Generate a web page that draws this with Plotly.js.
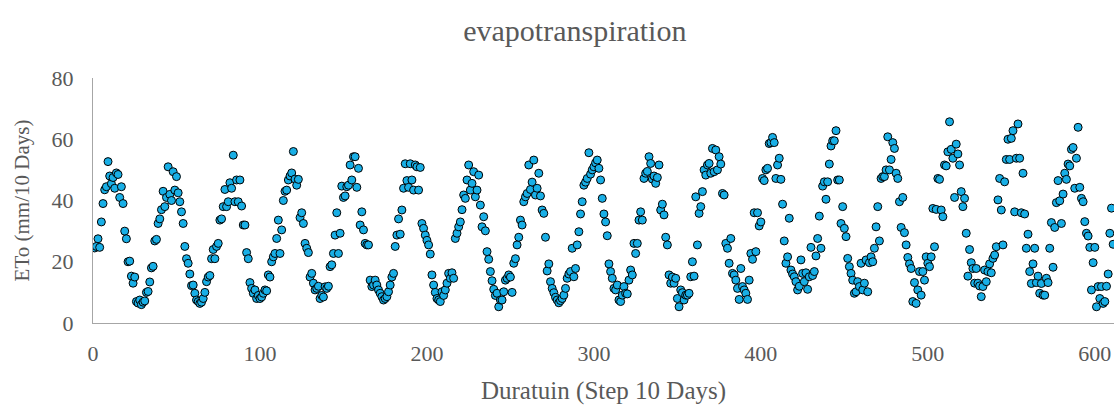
<!DOCTYPE html>
<html>
<head>
<meta charset="utf-8">
<script src="https://cdn.plot.ly/plotly-3.0.1.min.js"></script>
<style>html,body{margin:0;padding:0;background:#fff;}#chart{width:1114px;height:408px;}</style>
</head>
<body>
<div id="chart"></div>
<script>
// ETo values per 10-day step, steps 1..611
const eto = [
24.5, 25.0, 27.5, 24.7, 33.0, 39.0, 43.5, 44.5, 52.7, 48.0,
45.5, 47.5, 44.0, 49.0, 48.5, 41.0, 44.5, 39.0, 30.0, 27.5,
20.0, 20.2, 15.3, 13.0, 15.0, 7.0, 6.5, 7.5, 6.0, 6.8,
7.2, 10.0, 10.3, 13.4, 18.0, 18.5, 26.8, 27.3, 32.5, 34.0,
37.0, 43.0, 38.0, 41.0, 51.0, 42.0, 40.0, 49.4, 43.4, 47.8,
42.5, 39.6, 36.3, 32.5, 25.0, 21.0, 19.5, 16.0, 12.2, 12.4,
9.7, 7.5, 7.0, 6.4, 6.8, 8.0, 10.0, 13.5, 15.0, 15.5,
21.0, 24.0, 21.0, 25.0, 26.0, 33.6, 34.0, 38.0, 43.6, 38.0,
39.6, 45.8, 44.0, 54.8, 39.6, 46.7, 39.6, 46.7, 38.2, 32.0,
32.0, 23.0, 21.0, 13.2, 11.3, 9.7, 10.8, 8.0, 9.0, 8.0,
8.5, 9.7, 10.8, 10.5, 15.7, 15.0, 20.0, 21.6, 22.7, 27.6,
33.6, 22.7, 30.4, 40.0, 43.0, 43.4, 46.7, 48.0, 49.0, 56.0,
47.0, 45.0, 46.9, 34.4, 36.0, 32.5, 26.0, 24.4, 23.0, 15.0,
16.2, 13.0, 10.8, 11.3, 12.0, 8.0, 9.0, 8.5, 11.8, 11.3,
12.0, 18.4, 19.0, 22.7, 28.7, 36.0, 22.7, 29.3, 44.7, 41.0,
41.5, 44.5, 45.0, 51.6, 46.7, 54.3, 54.3, 44.3, 50.5, 32.0,
36.3, 30.4, 26.0, 25.5, 25.5, 14.0, 11.9, 12.4, 14.0, 12.4,
10.8, 9.7, 8.6, 7.5, 8.0, 8.6, 10.2, 12.4, 15.0, 16.2,
25.0, 28.7, 34.0, 29.0, 36.9, 44.0, 52.0, 46.5, 44.3, 52.0,
46.7, 43.4, 51.6, 51.0, 43.4, 50.8, 32.5, 30.9, 28.7, 27.0,
25.5, 22.5, 15.7, 12.4, 10.0, 8.0, 7.5, 7.0, 10.2, 9.0,
10.8, 13.0, 16.2, 14.6, 16.4, 14.6, 27.6, 29.3, 31.4, 33.0,
37.0, 41.8, 40.7, 46.7, 51.6, 43.4, 45.6, 49.4, 41.2, 43.4,
48.3, 38.5, 31.4, 34.7, 30.1, 23.3, 20.8, 16.8, 13.8, 11.0,
9.0, 9.7, 5.3, 7.5, 7.5, 10.2, 14.0, 14.6, 15.7, 15.0,
10.0, 19.5, 21.0, 25.5, 28.0, 33.6, 32.0, 39.6, 41.2, 42.3,
51.6, 43.6, 46.0, 53.2, 41.8, 44.0, 48.9, 41.5, 36.9, 35.8,
28.0, 17.0, 19.3, 13.5, 11.3, 9.9, 8.4, 7.5, 6.6, 7.3,
8.0, 9.1, 11.3, 14.6, 16.0, 16.8, 24.4, 15.1, 17.8, 25.5,
29.8, 35.6, 39.6, 45.0, 46.0, 47.2, 55.6, 48.6, 50.0, 51.0,
52.3, 53.2, 50.5, 46.7, 40.7, 35.6, 33.0, 28.5, 19.3, 16.8,
14.6, 11.3, 10.8, 12.4, 7.5, 7.0, 9.1, 11.9, 9.7, 9.5,
14.0, 17.3, 15.7, 26.0, 22.7, 26.0, 33.6, 36.3, 33.6, 47.2,
48.9, 49.5, 54.3, 52.1, 47.0, 48.0, 45.6, 47.5, 51.6, 36.9,
38.8, 35.3, 28.0, 25.5, 15.7, 13.0, 15.0, 13.0, 14.6, 8.0,
5.3, 10.8, 9.9, 7.5, 9.1, 9.1, 9.7, 15.1, 20.0, 15.3,
41.2, 25.5, 35.8, 38.0, 42.9, 50.0, 48.3, 51.6, 52.1, 48.9,
57.0, 49.4, 56.5, 50.0, 54.3, 51.9, 42.3, 41.8, 26.0, 24.4,
19.5, 27.6, 16.2, 15.7, 14.0, 11.3, 7.7, 17.8, 11.9, 10.8,
9.7, 7.7, 14.0, 22.7, 20.8, 36.0, 23.3, 36.0, 31.7, 33.0,
47.2, 46.5, 50.0, 50.5, 58.6, 58.9, 60.6, 58.9, 47.2, 51.6,
53.8, 46.9, 38.8, 26.8, 19.5, 21.6, 34.2, 17.3, 16.0, 15.1,
13.5, 10.8, 12.0, 20.6, 16.2, 13.5, 16.4, 11.0, 15.1, 24.7,
15.5, 16.8, 21.9, 27.6, 34.9, 24.4, 44.7, 46.1, 40.4, 46.1,
51.9, 57.8, 59.5, 59.5, 62.8, 46.7, 46.7, 32.5, 38.0, 30.9,
28.2, 21.1, 18.4, 16.2, 14.0, 9.7, 10.2, 13.5, 11.9, 19.5,
10.8, 13.0, 20.6, 10.2, 19.7, 21.6, 20.0, 24.4, 31.4, 38.0,
26.8, 47.2, 47.8, 47.8, 50.0, 60.8, 50.0, 53.4, 58.9, 57.0,
48.9, 47.2, 39.6, 31.2, 41.0, 29.5, 25.5, 21.4, 19.3, 17.8,
7.0, 13.2, 6.4, 10.8, 16.8, 9.1, 16.8, 14.0, 21.6, 19.5,
18.4, 21.6, 37.4, 24.9, 37.1, 47.2, 46.9, 36.9, 34.7, 51.6,
51.3, 55.9, 65.7, 56.7, 53.8, 41.0, 58.4, 55.2, 51.6, 42.9,
38.0, 40.7, 29.3, 15.3, 24.0, 19.7, 17.8, 13.0, 17.8, 13.0,
12.1, 8.6, 11.9, 17.3, 13.5, 16.8, 19.3, 16.4, 21.1, 22.2,
24.9, 40.2, 47.2, 36.9, 25.5, 46.1, 53.4, 60.0, 53.4, 60.3,
62.8, 36.3, 53.8, 65.0, 53.8, 36.0, 48.9, 35.6, 24.4, 29.0,
16.8, 12.9, 19.3, 24.4, 13.2, 15.3, 9.7, 12.9, 9.1, 9.1,
14.6, 13.2, 24.4, 32.8, 18.2, 31.2, 39.3, 46.5, 39.9, 32.5,
42.1, 48.9, 46.9, 51.9, 51.3, 56.7, 57.3, 44.0, 53.8, 63.9,
44.3, 40.7, 39.6, 33.1, 29.3, 28.4, 24.7, 10.8, 19.7, 24.7,
5.3, 11.9, 8.0, 11.9, 6.4, 7.0, 12.0, 16.0, 29.3, 37.5,
25.7
];
const steps = eto.map((v, i) => i + 1);
const xTicks = [0, 100, 200, 300, 400, 500, 600];
const yTicks = [0, 20, 40, 60, 80];

const grey = '#595959';
const font = 'Liberation Serif, Times New Roman, serif';

Plotly.newPlot('chart', [{
  type: 'scatter',
  mode: 'markers',
  x: steps,
  y: eto,
  marker: { size: 8, color: '#19AFE6', line: { color: '#000000', width: 1 } },
  hoverinfo: 'x+y'
}], {
  width: 1114, height: 408,
  margin: { l: 93, r: 0, t: 78, b: 85 },
  paper_bgcolor: '#ffffff', plot_bgcolor: '#ffffff',
  showlegend: false,
  font: { family: font, color: grey },
  title: { text: 'evapotranspiration', font: { size: 30, color: grey, family: font }, x: 0.516, xref: 'container', xanchor: 'center', y: 0.925, yref: 'container', yanchor: 'middle' },
  xaxis: {
    range: [0, 611.5], tickvals: xTicks, ticktext: xTicks.map(String),
    showgrid: false, zeroline: false, showline: true, linecolor: '#a6a6a6', linewidth: 1,
    ticks: '', tickfont: { size: 22, color: grey, family: font }, ticklabelstandoff: 11,
    title: { text: 'Duratuin (Step 10 Days)', font: { size: 25, color: grey, family: font }, standoff: 16 }
  },
  yaxis: {
    range: [0, 80], tickvals: yTicks, ticktext: yTicks.map(String),
    showgrid: false, zeroline: false, showline: true, linecolor: '#a6a6a6', linewidth: 1,
    ticks: '', tickfont: { size: 22, color: grey, family: font }, ticklabelstandoff: 14,
    title: { text: 'ETo (mm/10 Days)', font: { size: 21, color: grey, family: font }, standoff: 16 }
  }
}, { displayModeBar: false, staticPlot: true });
</script>
</body>
</html>
